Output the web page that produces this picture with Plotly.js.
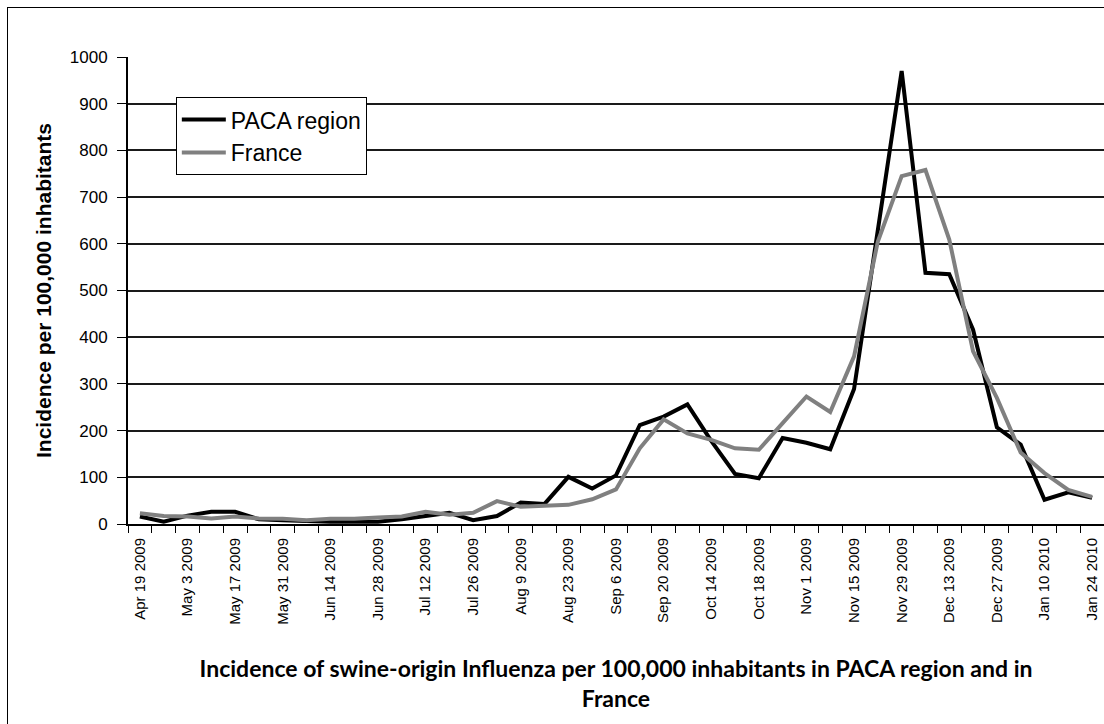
<!DOCTYPE html>
<html>
<head>
<meta charset="utf-8">
<script src="https://cdn.plot.ly/plotly-3.0.1.min.js"></script>
<style>
  html, body { margin: 0; padding: 0; background: #fff; overflow: hidden; }
  #chart { width: 1104px; height: 724px; }
  #frame { position: absolute; left: 7px; top: 7px; width: 1120px; height: 740px;
           border: 1px solid #000; pointer-events: none; box-sizing: border-box; }
</style>
</head>
<body>
<div id="chart"></div>
<div id="frame"></div>
<script>
// Weekly periods (week start dates)
const weeks = [
  "Apr 19 2009","Apr 26 2009","May 3 2009","May 10 2009","May 17 2009","May 24 2009",
  "May 31 2009","Jun 7 2009","Jun 14 2009","Jun 21 2009","Jun 28 2009","Jul 5 2009",
  "Jul 12 2009","Jul 19 2009","Jul 26 2009","Aug 2 2009","Aug 9 2009","Aug 16 2009",
  "Aug 23 2009","Aug 30 2009","Sep 6 2009","Sep 13 2009","Sep 20 2009","Sep 27 2009",
  "Oct 4 2009","Oct 11 2009","Oct 18 2009","Oct 25 2009","Nov 1 2009","Nov 8 2009",
  "Nov 15 2009","Nov 22 2009","Nov 29 2009","Dec 6 2009","Dec 13 2009","Dec 20 2009",
  "Dec 27 2009","Jan 3 2010","Jan 10 2010","Jan 17 2010","Jan 24 2010"
];
// Tick labels as printed on the chart (every second week)
const tickLabels = [
  "Apr 19 2009","May 3 2009","May 17 2009","May 31 2009","Jun 14 2009","Jun 28 2009",
  "Jul 12 2009","Jul 26 2009","Aug 9 2009","Aug 23 2009","Sep 6 2009","Sep 20 2009",
  "Oct 14 2009","Oct 18 2009","Nov 1 2009","Nov 15 2009","Nov 29 2009","Dec 13 2009",
  "Dec 27 2009","Jan 10 2010","Jan 24 2010"
];
// Incidence per 100,000 inhabitants
const paca = [16,5,18,26,26,10,8,6,5,5,5,10,17,24,8,17,46,43,101,76,104,212,230,256,178,107,98,184,174,160,289,630,970,538,535,416,207,170,52,68,56];
const france = [23,17,16,12,16,12,11,8,11,11,14,16,26,20,24,49,37,40,41,53,74,162,224,194,180,162,159,216,273,240,359,605,745,758,609,370,270,153,109,73,58];

const tickText = weeks.map((w, i) => (i % 2 === 0 ? tickLabels[i / 2] : ""));

const ARIAL = '"Liberation Sans", Arial, sans-serif';

const traces = [
  { x: weeks, y: paca, type: "scatter", mode: "lines", name: "PACA region",
    line: { color: "#000000", width: 4 } },
  { x: weeks, y: france, type: "scatter", mode: "lines", name: "France",
    line: { color: "#808080", width: 4 } }
];

const layout = {
  width: 1104, height: 724,
  margin: { l: 128, r: 0, t: 57, b: 200 },
  paper_bgcolor: "#ffffff", plot_bgcolor: "#ffffff",
  font: { family: ARIAL, color: "#000" },
  showlegend: true,
  legend: {
    x: 0.049, y: 0.914, xanchor: "left", yanchor: "top",
    bgcolor: "#ffffff", bordercolor: "#000000", borderwidth: 1,
    font: { size: 23, family: ARIAL, color: "#000" },
    itemwidth: 44,
    tracegroupgap: 0
  },
  xaxis: {
    type: "category",
    range: [-0.5, 40.5],
    tickmode: "array", tickvals: weeks, ticktext: tickText,
    tickson: "boundaries",
    ticks: "outside", ticklen: 7, tickwidth: 1, tickcolor: "#000",
    ticklabelstandoff: 6,
    tickangle: -90,
    tickfont: { size: 15, family: ARIAL, color: "#000" },
    showgrid: false, zeroline: false,
    showline: true, linecolor: "#000", linewidth: 2,
    title: {
      text: "Incidence of swine-origin Influenza per 100,000 inhabitants in PACA region and in<br>France",
      font: { size: 23, family: "Lato, sans-serif", color: "#000", weight: "bold" },
      standoff: 37
    }
  },
  yaxis: {
    range: [0, 1000], dtick: 100, tick0: 0,
    ticks: "outside", ticklen: 9, tickwidth: 1, tickcolor: "#000",
    ticklabelstandoff: 6,
    tickfont: { size: 17, family: ARIAL, color: "#000" },
    showgrid: true, gridcolor: "#1a1a1a", gridwidth: 2,
    zeroline: false,
    showline: true, linecolor: "#000", linewidth: 2,
    title: {
      text: "Incidence per 100,000 inhabitants",
      font: { size: 21, family: ARIAL, color: "#000", weight: "bold" },
      standoff: 12
    }
  }
};

Plotly.newPlot("chart", traces, layout, { staticPlot: true, displayModeBar: false });
</script>
</body>
</html>
